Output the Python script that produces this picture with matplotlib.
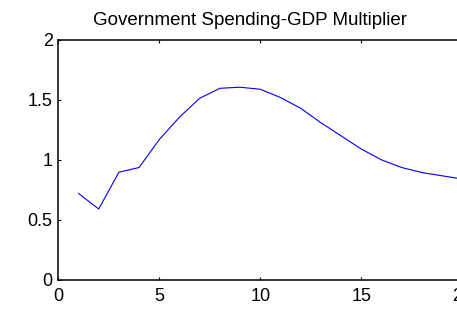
import matplotlib
matplotlib.use("Agg")
import matplotlib.pyplot as plt

# horizon (quarters) and multiplier values
horizon = list(range(1, 21))
multiplier = [0.72, 0.59, 0.897, 0.936, 1.17, 1.356, 1.514, 1.597, 1.606, 1.589,
              1.52, 1.43, 1.31, 1.20, 1.09, 1.00, 0.936, 0.894, 0.867, 0.84]

xticks = [0, 5, 10, 15, 20]
yticks = [0, 0.5, 1, 1.5, 2]
ytick_labels = ["0", "0.5", "1", "1.5", "2"]

plt.rcParams['font.family'] = ['Liberation Sans', 'DejaVu Sans']

fig = plt.figure(figsize=(4.57, 3.10), dpi=100)
ax = fig.add_axes([58.3 / 457, 30.3 / 310, 404 / 457, 239.7 / 310])

ax.plot(horizon, multiplier, color='#0000ff', linewidth=0.8)
ax.set_xlim(0, 20)
ax.set_ylim(0, 2)
ax.set_xticks(xticks)
ax.set_yticks(yticks)
ax.set_yticklabels(ytick_labels)
ax.tick_params(direction='in', top=True, right=True, length=2.5, width=0.8,
               labelsize=13)
ax.tick_params(axis='x', pad=6)
ax.tick_params(axis='y', pad=4)
for s in ax.spines.values():
    s.set_linewidth(1.1)
ax.set_title("Government Spending-GDP Multiplier", fontsize=13.5, pad=10.5,
             x=0.4745)

fig.savefig("out.png", dpi=100)
